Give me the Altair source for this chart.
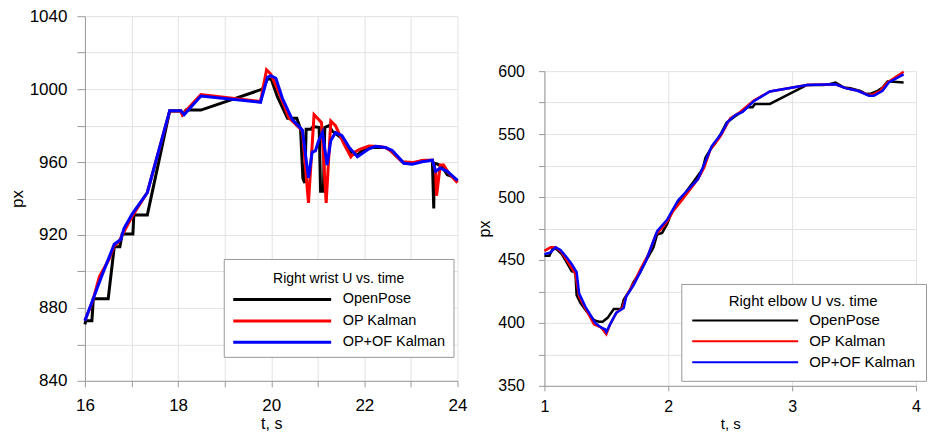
import altair as alt
import pandas as pd

SERIES = ["OpenPose", "OP Kalman", "OP+OF Kalman"]
COLORS = ["#000000", "#ff0000", "#0000ff"]

# ---- Right wrist U (left panel) ----
wrist_op_t = [16, 16.02, 16.15, 16.18, 16.5, 16.63, 16.75, 16.8, 17.03, 17.05, 17.34, 17.82, 18.06, 18.1, 18.17,
              18.49, 19.81, 19.92, 20.0, 20.13, 20.35, 20.55, 20.63, 20.68, 20.72, 20.75, 20.78, 20.85, 20.9, 21.03,
              21.06, 21.12, 21.15, 21.24, 21.31, 21.53, 21.63, 21.74, 21.85, 21.92, 22.03, 22.17, 22.45, 22.56,
              22.85, 23.03, 23.24, 23.46, 23.49, 23.5, 23.56, 23.67, 23.78, 23.89, 24.0]
wrist_op_v = [871, 873, 873, 885, 885, 913.5, 913.5, 920.5, 920.5, 931, 931, 988, 988, 986, 988.5,
              988.5, 1000, 1005.5, 1005.5, 996, 984, 984, 978, 951, 948.5, 978, 978, 978, 979.5, 979,
              944, 944, 979, 980, 977, 972.7, 968, 964.7, 963.8, 965.6, 967.3, 968, 968, 966.4,
              959.3, 959.3, 960.7, 961, 934.5, 959.3, 959, 957.5, 953, 952, 949.5]

wrist_kf_t = [16, 16.17, 16.31, 16.52, 16.63, 16.74, 16.8, 17.01, 17.34, 17.82, 18.06, 18.09, 18.49, 19.77, 19.9,
              19.99, 20.17, 20.38, 20.49, 20.67, 20.8, 20.92, 21.02, 21.08, 21.18, 21.28, 21.38, 21.56, 21.71,
              21.8, 21.9, 22.1, 22.3, 22.45, 22.56, 22.81, 23.03, 23.27, 23.46, 23.53, 23.55, 23.63, 23.7,
              23.81, 24.0]
wrist_kf_v = [873, 884, 897, 906.8, 914, 916.6, 920, 930, 943.3, 988, 988, 986, 997, 993.2, 1010.6,
              1008.3, 998, 984.2, 981.6, 977.1, 937.6, 986, 983.4, 981.6, 937.6, 982.5, 980, 970, 962.9,
              965.5, 967, 968.8, 968.5, 968, 966.4, 960.2, 959.7, 961, 961, 955, 941.5, 958.4, 958.4,
              954, 948.6]

wrist_of_t = [16, 16.17, 16.38, 16.63, 16.77, 16.84, 17.02, 17.34, 17.82, 18.06, 18.13, 18.49, 19.77, 19.92,
              19.99, 20.1, 20.24, 20.45, 20.67, 20.8, 20.88, 20.95, 21.02, 21.1, 21.2, 21.28, 21.38, 21.52,
              21.67, 21.85, 22.1, 22.24, 22.45, 22.6, 22.85, 23.03, 23.24, 23.46, 23.53, 23.63, 23.78, 24.0]
wrist_of_v = [873, 884.5, 898.8, 914.9, 917.5, 923.7, 931.7, 943.3, 988.2, 988.2, 986, 996.2, 992.8, 1006.5,
              1007.4, 1006, 995, 983.4, 977.5, 951.3, 965.5, 966.2, 971.8, 976.2, 958.4, 971.8, 976.2, 974.5,
              968.2, 962.9, 967.3, 968.6, 968, 966.4, 959.3, 958.8, 960.2, 961, 954.9, 956.7, 954.9, 950]

# ---- Right elbow U (right panel) ----
elbow_op_t = [1, 1.04, 1.07, 1.1, 1.14, 1.18, 1.22, 1.25, 1.26, 1.29, 1.34, 1.4, 1.44, 1.47, 1.51, 1.56, 1.62,
              1.64, 1.69, 1.72, 1.77, 1.82, 1.88, 1.91, 1.95, 1.99, 2.03, 2.08, 2.13, 2.16, 2.21, 2.26, 2.28,
              2.3, 2.34, 2.38, 2.42, 2.47, 2.54, 2.59, 2.64, 2.68, 2.7, 2.82, 3.12, 3.25, 3.3, 3.35, 3.42,
              3.47, 3.55, 3.6, 3.64, 3.69, 3.73, 3.77, 3.79, 3.9]
elbow_op_v = [453.3, 453.3, 459.8, 458.5, 454.6, 448, 441, 440.3, 422, 416, 409.2, 402.2, 401, 401, 404, 411,
              411, 418.3, 426, 432.5, 439.6, 449.4, 459.8, 470.2, 471.5, 478.5, 488.4, 496.2, 501.9, 506.5,
              513, 520, 523, 531.2, 537.7, 542.9, 549.4, 559, 564.2, 567.6, 571.4, 571.4, 574, 574, 589,
              589, 589.6, 591, 587, 586.5, 584.4, 581.8, 582.3, 584.4, 587, 591.7, 591.7, 591]

elbow_kf_t = [1, 1.05, 1.09, 1.14, 1.2, 1.25, 1.28, 1.33, 1.4, 1.46, 1.5, 1.53, 1.58, 1.63, 1.66, 1.72, 1.77,
              1.84, 1.9, 1.95, 1.99, 2.04, 2.11, 2.24, 2.29, 2.34, 2.42, 2.5, 2.58, 2.69, 2.82, 3.12, 3.35,
              3.43, 3.53, 3.61, 3.65, 3.71, 3.77, 3.9]
elbow_kf_v = [457.2, 460, 460, 456, 446.8, 439, 421, 411.8, 398.8, 396.2, 391, 398.8, 408, 411.8, 421, 431.3,
              441.6, 454.6, 470.2, 475.4, 480.6, 488.9, 497.5, 514.3, 523.4, 537.7, 548, 562.4, 567.6,
              576.6, 583.9, 589, 589.6, 586.5, 584.4, 581.3, 581.3, 584.4, 591, 599.5]

elbow_of_t = [1, 1.05, 1.09, 1.13, 1.18, 1.22, 1.26, 1.28, 1.33, 1.41, 1.46, 1.49, 1.5, 1.53, 1.58, 1.64, 1.66,
              1.72, 1.82, 1.91, 1.99, 2.08, 2.24, 2.29, 2.35, 2.43, 2.48, 2.54, 2.6, 2.69, 2.82, 3.12, 3.35,
              3.43, 3.53, 3.62, 3.66, 3.73, 3.78, 3.9]
elbow_of_v = [454.6, 456, 460, 458, 452, 446.8, 440.3, 423.5, 413, 400, 396.2, 394.9, 392.8, 398.8, 408,
              411.8, 421, 430, 449.4, 472.8, 481.9, 497.5, 514.3, 526, 540.3, 550.7, 559.8, 565, 567.6,
              576.1, 583.9, 589, 589.6, 586.5, 584.4, 580.5, 580.5, 584.4, 591, 597.4]

FONT = "Liberation Sans"


def frame(series_lists):
    rows = []
    for name, ts, vs in series_lists:
        for i, (t, v) in enumerate(zip(ts, vs)):
            rows.append({"series": name, "t": t, "v": v, "i": i})
    return pd.DataFrame(rows)


def panel(df, xdom, xvals, xmajor, ydom, yvals, ymajor, w, h, sw, legend, axis_opts):
    xaxis = alt.Axis(values=xvals, format="d",
                     labelExpr=f"indexof({xmajor}, datum.value) >= 0 ? datum.label : ''",
                     title="t, s", **axis_opts["x"])
    yaxis = alt.Axis(values=yvals, format="d",
                     labelExpr=f"indexof({ymajor}, datum.value) >= 0 ? datum.label : ''",
                     title="px", **axis_opts["y"])
    layers = []
    for name in SERIES:
        layers.append(
            alt.Chart(df).transform_filter(alt.datum.series == name).mark_line(strokeWidth=sw).encode(
                x=alt.X("t:Q", scale=alt.Scale(domain=xdom, nice=False, zero=False), axis=xaxis),
                y=alt.Y("v:Q", scale=alt.Scale(domain=ydom, nice=False, zero=False), axis=yaxis),
                color=alt.Color("series:N", scale=alt.Scale(domain=SERIES, range=COLORS), legend=legend),
                order="i:Q",
            )
        )
    return alt.layer(*layers).properties(width=w, height=h)


def axis_common(fs, tfs, tick, lpad, tpad):
    return dict(grid=True, gridColor="#e2e2e2", gridWidth=1, domainColor="#9a9a9a", tickColor="#9a9a9a",
                tickSize=tick, labelFont=FONT, labelFontSize=fs, labelColor="#000000", labelPadding=lpad,
                titleFont=FONT, titleFontSize=tfs, titleFontWeight="normal", titleColor="#000000",
                titlePadding=tpad, labelFlush=False, labelOverlap=False)


left_df = frame([(SERIES[0], wrist_op_t, wrist_op_v), (SERIES[1], wrist_kf_t, wrist_kf_v),
                 (SERIES[2], wrist_of_t, wrist_of_v)])
right_df = frame([(SERIES[0], elbow_op_t, elbow_op_v), (SERIES[1], elbow_kf_t, elbow_kf_v),
                  (SERIES[2], elbow_of_t, elbow_of_v)])

left_legend = alt.Legend(orient="none", legendX=139, legendY=243, title="Right wrist U vs. time",
                         titleAnchor="middle", titleFont=FONT, titleFontSize=14, titleFontWeight="normal",
                         titleColor="#000000", titleBaseline="line-top", titleLineHeight=23, titlePadding=9,
                         labelFont=FONT, labelFontSize=14.5,
                         labelColor="#000000", symbolType="M-1,0H11.25", symbolSize=256, symbolStrokeWidth=3,
                         labelOffset=92, strokeColor="#999999", fillColor="#ffffff", padding=8, rowPadding=5.5)
right_legend = alt.Legend(orient="none", legendX=137, legendY=213, title="Right elbow U vs. time",
                          titleAnchor="middle", titleFont=FONT, titleFontSize=15, titleFontWeight="normal",
                          titleColor="#000000", titlePadding=2.5, labelFont=FONT, labelFontSize=15,
                          labelColor="#000000", symbolType="M-1,0H12.25", symbolSize=256, symbolStrokeWidth=2,
                          labelOffset=100, strokeColor="#999999", fillColor="#ffffff", padding=10, rowPadding=4)

left = panel(left_df, [16, 24], list(range(16, 25)), [16, 18, 20, 22, 24], [840, 1040],
             list(range(840, 1041, 20)), [840, 880, 920, 960, 1000, 1040], 373, 365, 3, left_legend,
             {"x": axis_common(17, 16, 6, 11, 2), "y": axis_common(17, 17, 8, 10, 3)})

right = panel(right_df, [1, 4], [1, 1.5, 2, 2.5, 3, 3.5, 4], [1, 2, 3, 4], [350, 600],
              list(range(350, 601, 25)), [350, 400, 450, 500, 550, 600], 372, 315, 2.5, right_legend,
              {"x": axis_common(16, 15, 5, 8, 2), "y": axis_common(16, 16, 6, 14, 5)})

spacer = alt.Chart(pd.DataFrame({"a": [0]})).mark_point(opacity=0).encode(
    x=alt.value(0), y=alt.value(0)).properties(width=372, height=45)

right_col = alt.vconcat(spacer, right, spacing=0).resolve_scale(color="independent")

chart = alt.hconcat(left, right_col, spacing=8).resolve_scale(color="independent").properties(
    padding={"left": -1, "top": -2, "right": 0, "bottom": 0}
).configure(background="#ffffff", view={"stroke": "transparent"})

chart.save("out.html", embed_options={"renderer": "svg", "actions": False})
